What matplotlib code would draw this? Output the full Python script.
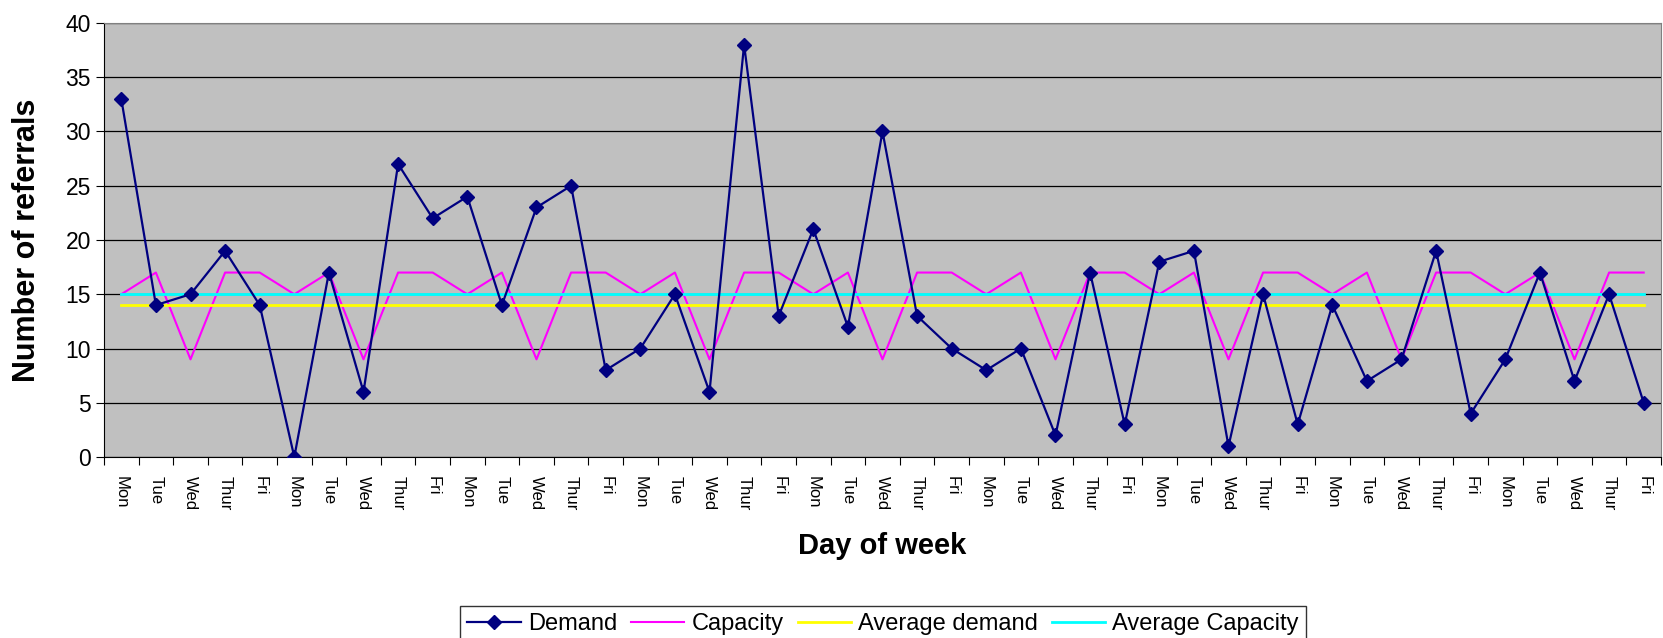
import matplotlib.pyplot as plt
import numpy as np

# referrals per working day over nine weeks
days = ["Mon", "Tue", "Wed", "Thur", "Fri"] * 9
demand = [33, 14, 15, 19, 14, 0, 17, 6, 27, 22, 24, 14, 23, 25, 8,
          10, 15, 6, 38, 13, 21, 12, 30, 13, 10, 8, 10, 2, 17, 3,
          18, 19, 1, 15, 3, 14, 7, 9, 19, 4, 9, 17, 7, 15, 5]
capacity_week = [15, 17, 9, 17, 17]
capacity = capacity_week * 9
avg_demand = 14
avg_capacity = 15

plt.rcParams['font.family'] = ['Liberation Sans', 'DejaVu Sans']

fig = plt.figure(figsize=(16.63, 6.38), dpi=100)
ax = fig.add_axes([104/1663, 1 - 457/638, (1661 - 104)/1663, (457 - 23)/638])
x = np.arange(len(days))

ax.plot(x, demand, color="#000080", marker="D", markersize=7, linewidth=1.6, label="Demand", zorder=5)
ax.plot(x, capacity, color="#FF00FF", linewidth=1.5, label="Capacity", zorder=3)
ax.plot(x, [avg_demand] * len(x), color="#FFFF00", linewidth=2, label="Average demand", zorder=4)
ax.plot(x, [avg_capacity] * len(x), color="#00FFFF", linewidth=2, label="Average Capacity", zorder=4)

ax.set_facecolor("#C0C0C0")
ax.set_xlim(-0.5, len(x) - 0.5)
ax.set_ylim(0, 40)
ax.set_yticks(range(0, 41, 5))
ax.yaxis.grid(True, color="black", linewidth=0.9)
ax.set_axisbelow(True)
for s in ["top", "right"]:
    ax.spines[s].set_color("#808080")
for s in ["left", "bottom"]:
    ax.spines[s].set_color("black")

# tick marks between categories, labels under each point
ax.set_xticks(np.arange(-0.5, len(x), 1))
ax.set_xticklabels([])
ax.set_xticks(x, minor=True)
ax.set_xticklabels(days, minor=True, rotation=-90, fontsize=12, va="top")
ax.tick_params(axis="x", which="minor", length=0, pad=14)
ax.tick_params(axis="x", which="major", length=6, direction="out")
ax.tick_params(axis="y", labelsize=16.5, length=6, direction="out")

ax.set_ylabel("Number of referrals", fontsize=22, fontweight="bold")
ax.yaxis.set_label_coords(-0.040, 0.5)
ax.set_xlabel("Day of week", fontsize=21, fontweight="bold")
ax.xaxis.set_label_coords(0.5, -0.172)

fig.legend(loc="upper center", bbox_to_anchor=(883/1663, 1 - 594/638), ncol=4,
           fontsize=17, frameon=True, fancybox=False, edgecolor="black",
           handlelength=2.25, columnspacing=0.6, handletextpad=0.3, borderpad=0.3)

plt.savefig("out.png", dpi=100)
